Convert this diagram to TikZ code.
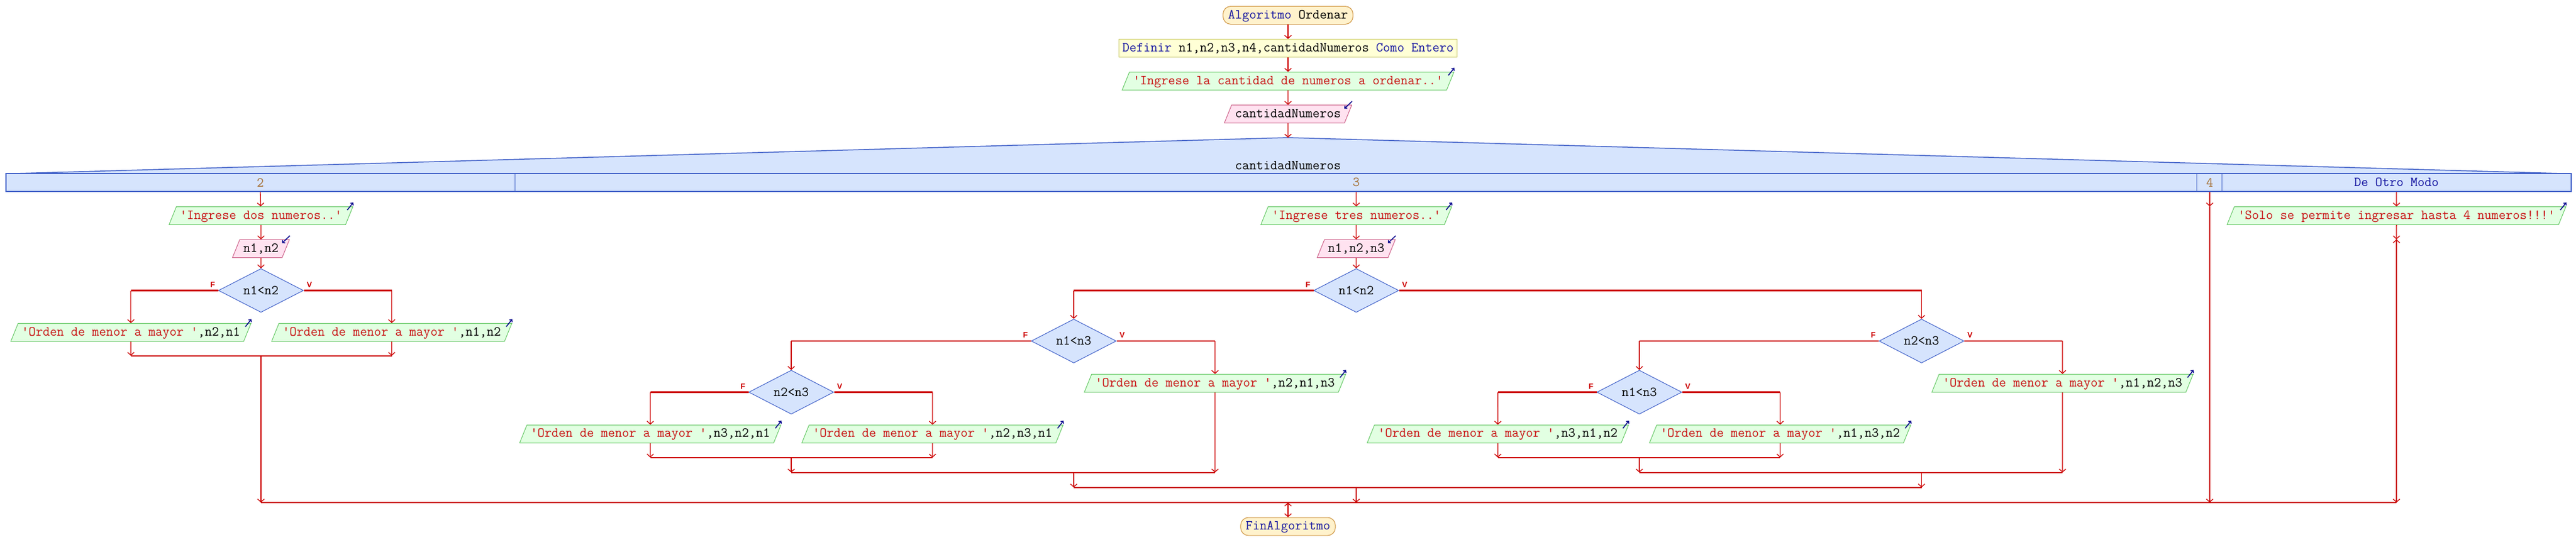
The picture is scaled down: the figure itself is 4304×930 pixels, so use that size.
\documentclass[tikz,border=0pt]{standalone}
\usepackage{fontspec}
\newfontfamily\fvfont{Liberation Sans}
\usetikzlibrary{shapes.geometric,arrows.meta}
\definecolor{flecha}{RGB}{204,0,0}
\definecolor{azul}{RGB}{20,20,160}
\definecolor{rojo}{RGB}{200,16,16}
\definecolor{cafe}{RGB}{165,110,50}
\definecolor{marino}{RGB}{0,0,140}
\definecolor{termfondo}{RGB}{255,242,204}
\definecolor{termborde}{RGB}{205,145,60}
\definecolor{deffondo}{RGB}{255,255,214}
\definecolor{defborde}{RGB}{204,204,102}
\definecolor{salfondo}{RGB}{226,255,226}
\definecolor{salborde}{RGB}{102,200,102}
\definecolor{entfondo}{RGB}{255,226,240}
\definecolor{entborde}{RGB}{204,96,136}
\definecolor{selfondo}{RGB}{214,228,253}
\definecolor{selborde}{RGB}{64,96,200}
\newcommand{\kw}[1]{\textcolor{azul}{#1}}
\newcommand{\cad}[1]{\textcolor{rojo}{#1}}
\newcommand{\orden}[1]{\cad{'Orden de menor a mayor '},#1}

\begin{document}
\begin{tikzpicture}[x=1pt,y=-1pt,font=\ttfamily\fontsize{22.86}{26}\selectfont,
	caja/.style={draw,line width=1pt,text height=15pt,text depth=4pt,inner ysep=5.5pt,inner xsep=6pt},
	term/.style={caja,rounded corners=13pt,fill=termfondo,draw=termborde,inner xsep=8.5pt},
	defbox/.style={caja,fill=deffondo,draw=defborde},
	salida/.style={caja,trapezium,trapezium left angle=68,trapezium right angle=112,fill=salfondo,draw=salborde},
	entrada/.style={salida,fill=entfondo,draw=entborde},
	cond/.style={diamond,draw=selborde,fill=selfondo,line width=1pt,inner sep=0pt,minimum width=142pt,minimum height=60pt,
		label={[fv,anchor=south east,xshift=-3pt,yshift=3pt]west:F},label={[fv,anchor=south west,xshift=3pt,yshift=3pt]east:V}},
	fv/.style={text=flecha,font=\fvfont\bfseries\fontsize{13}{15}\selectfont,inner sep=2pt},
	flujo/.style={draw=flecha,line width=1.3pt,-{Straight Barb[length=5pt,width=11pt]}},
	rama/.style={draw=flecha,line width=2.2pt},
	icono/.style={draw=marino,line width=1.5pt,-{Straight Barb[length=3pt,width=6pt]}},
	caso/.style={inner sep=0pt,text=cafe}]
	\useasboundingbox (0,0) rectangle (4304,930);

	\node[term] (ini) at (2152,25.5) {\kw{Algoritmo} Ordenar};
	\node[defbox] (def) at (2152,80.5) {\kw{Definir} n1,n2,n3,n4,cantidadNumeros \kw{Como Entero}};
	\node[salida] (o0) at (2152,135.5) {\cad{'Ingrese la cantidad de numeros a ordenar..'}};
	\node[entrada] (i0) at (2152,190.7) {cantidadNumeros};

	\coordinate (ap) at (2152,230);
	\filldraw[fill=selfondo,draw=selborde,line width=1.5pt] (25,290) -- (ap) -- (4281,290) -- cycle;
	\node[draw=selborde,fill=selfondo,line width=1.5pt,minimum width=4286pt,minimum height=30pt,inner sep=0pt] (sw) at (2153,305) {};
	\node[inner sep=0pt] (sel) at (2152,277) {cantidadNumeros};
	\draw[selborde,line width=1pt] (860.5,290) -- (860.5,320) (3670.5,290) -- (3670.5,320) (3712.3,290) -- (3712.3,320);
	\node[caso] (c2) at (435,305) {2};
	\node[caso] (c3) at (2266,305) {3};
	\node[caso] (c4) at (3692,305) {4};
	\node[caso,text=azul] (cx) at (4004,305) {De Otro Modo};

	\node[salida] (o21) at (436,360.5) {\cad{'Ingrese dos numeros..'}};
	\node[entrada] (i21) at (436,415.5) {n1,n2};
	\node[cond] (d21) at (436,485.5) {n1<n2};
	\node[salida] (o22) at (218.7,555.5) {\orden{n2,n1}};
	\node[salida] (o23) at (654.5,555.5) {\orden{n1,n2}};
	\coordinate (m21) at (436,594.7);

	\node[salida] (o31) at (2266,360.5) {\cad{'Ingrese tres numeros..'}};
	\node[entrada] (i31) at (2266,415.5) {n1,n2,n3};
	\node[cond] (d31) at (2266,485.5) {n1<n2};
	\node[cond] (d32) at (1794,570) {n1<n3};
	\node[cond] (d33) at (1322,655.5) {n2<n3};
	\node[salida] (o32) at (1086.5,725.3) {\orden{n3,n2,n1}};
	\node[salida] (o33) at (1558,725.3) {\orden{n2,n3,n1}};
	\node[salida] (o34) at (2030,640.5) {\orden{n2,n1,n3}};
	\node[cond] (d34) at (3210.5,570) {n2<n3};
	\node[cond] (d35) at (2739,655.5) {n1<n3};
	\node[salida] (o35) at (2502.6,725.3) {\orden{n3,n1,n2}};
	\node[salida] (o36) at (2974.2,725.3) {\orden{n1,n3,n2}};
	\node[salida] (o37) at (3446,640.5) {\orden{n1,n2,n3}};
	\coordinate (m33) at (1322,764.7);
	\coordinate (m35) at (2739,764.7);
	\coordinate (m32) at (1794,789.7);
	\coordinate (m34) at (3210.5,789.7);
	\coordinate (m31) at (2266,814.7);

	\node[salida] (o41) at (4004,360.5) {\cad{'Solo se permite ingresar hasta 4 numeros!!!'}};
	\coordinate (e41) at (4004,400);

	\coordinate (mf) at (2152,840);
	\node[term,text=azul] (fin) at (2152,880) {FinAlgoritmo};

	\foreach \s in {o0,o21,o22,o23,o31,o32,o33,o34,o35,o36,o37,o41}
		\draw[icono] ([shift={(-10,6)}]\s.top right corner) -- ++(10,-12.6);
	\foreach \s in {i0,i21,i31}
		\draw[icono] ([shift={(0,-6)}]\s.top right corner) -- ++(-13,12.4);

	\path[flujo]
	(ini) edge (def)
	(def) edge (o0)
	(o0) edge (i0)
	(i0) edge (ap)
	(c2 |- sw.south) edge (o21)
	(o21) edge (i21)
	(i21) edge (d21)
	(c3 |- sw.south) edge (o31)
	(o31) edge (i31)
	(i31) edge (d31)
	(c4 |- sw.south) edge (c4 |- o41.north)
	(c4 |- o41.north) edge (c4 |- mf)
	(cx |- sw.south) edge (o41)
	(o41) edge (e41)
	(e41) edge (e41 |- mf);

	\draw[rama]
	(d21.west) -- (d21.west -| o22) edge[flujo] (o22)
	(d21.east) -- (d21.east -| o23) edge[flujo] (o23)
	(d31.west) -- (d31.west -| d32) edge[flujo] (d32)
	(d31.east) -- (d31.east -| d34) edge[flujo] (d34)
	(d32.west) -- (d32.west -| d33) edge[flujo] (d33)
	(d32.east) -- (d32.east -| o34) edge[flujo] (o34)
	(d33.west) -- (d33.west -| o32) edge[flujo] (o32)
	(d33.east) -- (d33.east -| o33) edge[flujo] (o33)
	(d34.west) -- (d34.west -| d35) edge[flujo] (d35)
	(d34.east) -- (d34.east -| o37) edge[flujo] (o37)
	(d35.west) -- (d35.west -| o35) edge[flujo] (o35)
	(d35.east) -- (d35.east -| o36) edge[flujo] (o36);

	\draw[rama]
	(o22 |- m21) -- (o23 |- m21)
	(o32 |- m33) -- (o33 |- m33)
	(m33 |- m32) -- (o34 |- m32)
	(o35 |- m35) -- (o36 |- m35)
	(m35 |- m34) -- (o37 |- m34)
	(m32 |- m31) -- (m34 |- m31)
	(m21 |- mf) -- (cx |- mf);

	\path[flujo]
	(o22) edge (o22 |- m21)
	(o23) edge (o23 |- m21)
	(m21) edge (m21 |- mf)
	(o32) edge (o32 |- m33)
	(o33) edge (o33 |- m33)
	(m33) edge (m33 |- m32)
	(o34) edge (o34 |- m32)
	(o35) edge (o35 |- m35)
	(o36) edge (o36 |- m35)
	(m35) edge (m35 |- m34)
	(o37) edge (o37 |- m34)
	(m32) edge (m32 |- m31)
	(m34) edge (m34 |- m31)
	(m31) edge (m31 |- mf)
	(mf) edge (fin);
\end{tikzpicture}
\end{document}
